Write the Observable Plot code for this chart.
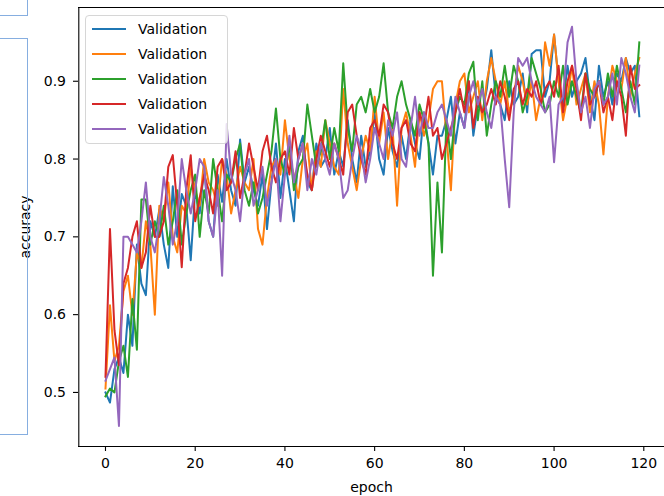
<!DOCTYPE html>
<html>
<head>
<meta charset="utf-8">
<script src="https://cdn.jsdelivr.net/npm/d3@7"></script>
<script src="https://cdn.jsdelivr.net/npm/@observablehq/plot@0.6"></script>
<style>
  html, body { margin: 0; padding: 0; background: #fff; }
  #wrap { position: relative; width: 664px; height: 496px; overflow: hidden; font-family: "DejaVu Sans", sans-serif; }
  .deco { position: absolute; border: 1px solid #86aee0; box-sizing: border-box; }
  #legend { position: absolute; left: 85px; top: 15px; width: 143px; height: 129px; box-sizing: border-box;
    border: 1px solid #d6d6d6; border-radius: 4px; background: rgba(255,255,255,0.8); }
  .row { position: absolute; left: 0; height: 20px; display: flex; align-items: center; }
  .row svg { margin-left: 5px; }
  .row span { margin-left: 11px; font-size: 14px; color: #000; }
</style>
</head>
<body>
<div id="wrap"></div>
<script>
const epochs = d3.range(120);
const seriesNames = ["Validation", "Validation", "Validation", "Validation", "Validation"];
const colors = ["#1f77b4", "#ff7f0e", "#2ca02c", "#d62728", "#9467bd"];
const xTicks = [0, 20, 40, 60, 80, 100, 120];
const yTicks = [0.5, 0.6, 0.7, 0.8, 0.9];

const blue = [
0.500,0.487,0.530,0.545,0.525,0.600,0.560,0.690,0.640,0.625,
0.720,0.700,0.735,0.690,0.660,0.765,0.700,0.755,0.740,0.670,
0.760,0.730,0.790,0.720,0.700,0.780,0.745,0.800,0.760,0.740,
0.825,0.770,0.790,0.760,0.740,0.780,0.710,0.770,0.820,0.750,
0.800,0.760,0.720,0.810,0.830,0.770,0.760,0.820,0.790,0.800,
0.840,0.780,0.810,0.790,0.850,0.800,0.770,0.830,0.790,0.810,
0.860,0.800,0.780,0.840,0.810,0.790,0.830,0.800,0.850,0.820,
0.800,0.860,0.820,0.780,0.830,0.830,0.850,0.880,0.820,0.860,
0.840,0.900,0.830,0.870,0.860,0.890,0.940,0.880,0.870,0.850,
0.900,0.870,0.880,0.910,0.860,0.935,0.940,0.940,0.880,0.900,
0.960,0.900,0.870,0.920,0.880,0.900,0.910,0.930,0.880,0.850,
0.920,0.880,0.900,0.870,0.910,0.900,0.930,0.910,0.920,0.855];
const orange = [
0.505,0.612,0.540,0.560,0.630,0.650,0.600,0.680,0.660,0.720,
0.690,0.600,0.740,0.720,0.770,0.700,0.680,0.740,0.730,0.790,
0.760,0.740,0.800,0.770,0.760,0.740,0.800,0.780,0.730,0.760,
0.790,0.770,0.760,0.800,0.710,0.690,0.750,0.790,0.800,0.780,
0.850,0.800,0.780,0.750,0.800,0.820,0.760,0.810,0.790,0.850,
0.820,0.790,0.780,0.890,0.820,0.790,0.760,0.800,0.830,0.810,
0.880,0.820,0.860,0.800,0.840,0.740,0.840,0.860,0.830,0.790,
0.860,0.830,0.850,0.890,0.900,0.900,0.830,0.760,0.870,0.900,
0.910,0.860,0.880,0.900,0.850,0.900,0.930,0.900,0.870,0.900,
0.860,0.880,0.920,0.900,0.870,0.900,0.850,0.880,0.950,0.920,
0.960,0.900,0.850,0.880,0.920,0.870,0.890,0.910,0.860,0.900,
0.870,0.806,0.880,0.920,0.900,0.890,0.930,0.880,0.910,0.930];
const green = [
0.495,0.505,0.500,0.540,0.560,0.520,0.620,0.555,0.748,0.748,
0.690,0.720,0.700,0.740,0.690,0.720,0.760,0.690,0.730,0.760,
0.780,0.700,0.760,0.730,0.800,0.760,0.720,0.780,0.770,0.800,
0.820,0.760,0.740,0.770,0.730,0.750,0.780,0.810,0.865,0.800,
0.780,0.820,0.760,0.790,0.800,0.870,0.830,0.790,0.810,0.850,
0.800,0.840,0.810,0.923,0.840,0.810,0.870,0.880,0.860,0.890,
0.860,0.880,0.923,0.860,0.840,0.880,0.900,0.870,0.850,0.830,
0.870,0.850,0.820,0.650,0.770,0.680,0.850,0.800,0.860,0.880,
0.870,0.910,0.925,0.850,0.900,0.830,0.870,0.900,0.880,0.920,
0.880,0.920,0.900,0.860,0.880,0.930,0.910,0.890,0.860,0.870,
0.900,0.880,0.920,0.870,0.900,0.880,0.860,0.910,0.890,0.880,
0.900,0.870,0.910,0.880,0.920,0.890,0.860,0.900,0.870,0.950];
const red = [
0.520,0.710,0.580,0.535,0.640,0.660,0.700,0.720,0.660,0.680,
0.740,0.700,0.700,0.720,0.790,0.805,0.740,0.661,0.760,0.805,
0.720,0.750,0.780,0.760,0.730,0.790,0.800,0.760,0.770,0.810,
0.750,0.780,0.820,0.790,0.760,0.810,0.830,0.790,0.770,0.800,
0.810,0.780,0.840,0.800,0.820,0.780,0.760,0.800,0.830,0.810,
0.790,0.820,0.800,0.780,0.860,0.870,0.830,0.800,0.780,0.840,
0.850,0.830,0.870,0.860,0.820,0.800,0.840,0.850,0.820,0.810,
0.860,0.840,0.880,0.830,0.840,0.800,0.820,0.840,0.860,0.890,
0.860,0.900,0.840,0.880,0.860,0.870,0.890,0.870,0.900,0.880,
0.850,0.890,0.900,0.870,0.890,0.880,0.900,0.870,0.890,0.900,
0.880,0.920,0.860,0.900,0.920,0.890,0.850,0.910,0.870,0.880,
0.900,0.860,0.880,0.850,0.900,0.880,0.830,0.920,0.890,0.895];
const purple = [
0.515,0.530,0.545,0.457,0.700,0.700,0.690,0.680,0.720,0.770,
0.700,0.680,0.720,0.777,0.740,0.690,0.720,0.800,0.760,0.730,
0.760,0.800,0.790,0.720,0.700,0.760,0.650,0.845,0.780,0.760,
0.720,0.780,0.800,0.740,0.760,0.790,0.740,0.770,0.800,0.720,
0.780,0.830,0.770,0.800,0.820,0.760,0.800,0.780,0.820,0.800,
0.780,0.820,0.800,0.750,0.760,0.800,0.830,0.810,0.770,0.800,
0.840,0.820,0.800,0.850,0.830,0.860,0.800,0.790,0.840,0.880,
0.830,0.860,0.840,0.840,0.860,0.870,0.850,0.830,0.880,0.860,
0.840,0.880,0.900,0.870,0.890,0.860,0.840,0.880,0.870,0.800,
0.738,0.860,0.930,0.920,0.930,0.900,0.880,0.870,0.860,0.880,
0.796,0.870,0.880,0.950,0.970,0.900,0.860,0.880,0.840,0.890,
0.900,0.870,0.880,0.910,0.870,0.930,0.910,0.880,0.860,0.920];

const allSeries = [blue, orange, green, red, purple];
const rows = allSeries.flatMap((vals, s) => vals.map((v, i) => ({epoch: epochs[i], acc: v, s})));

const xDomain = [-5.95, 124.95];
const yDomain = [0.4305, 0.9948];

const chart = Plot.plot({
  width: 664,
  height: 496,
  marginLeft: 78,
  marginRight: 0,
  marginTop: 7,
  marginBottom: 50,
  style: {fontFamily: "DejaVu Sans, sans-serif", fontSize: "14px", color: "#000", background: "transparent"},
  x: {domain: xDomain, range: [78.3, 665.5]},
  y: {domain: yDomain, range: [446, 7]},
  marks: [
    ...allSeries.map((vals, s) => Plot.line(rows.filter(d => d.s === s), {
      x: "epoch", y: "acc", stroke: colors[s], strokeWidth: 2, strokeLinejoin: "round", strokeLinecap: "square"
    })),
    Plot.ruleY([yDomain[0]], {stroke: "#000", strokeWidth: 1.1}),
    Plot.ruleY([yDomain[1]], {stroke: "#000", strokeWidth: 1.1}),
    Plot.ruleX([xDomain[0]], {stroke: "#000", strokeWidth: 1.1}),
    Plot.axisX(xTicks, {tickSize: 5, tickPadding: 7, label: null, stroke: "#000", strokeWidth: 1.1, fill: "#000"}),
    Plot.axisY(yTicks, {tickSize: 5, tickPadding: 7.5, label: null, tickFormat: d3.format(".1f"), stroke: "#000", strokeWidth: 1.1, fill: "#000"}),
    Plot.text(["epoch"], {frameAnchor: "bottom", dy: 45, fill: "#000", fontSize: 14}),
    Plot.text(["accuracy"], {frameAnchor: "left", textAnchor: "middle", dx: -53, rotate: -90, fill: "#000", fontSize: 14})
  ]
});

const wrap = document.getElementById("wrap");
chart.style.position = "absolute";
chart.style.left = "0px";
chart.style.top = "0px";
wrap.appendChild(chart);

// decorative screenshot boxes on the left edge
const d1 = document.createElement("div");
d1.className = "deco";
Object.assign(d1.style, {left: "-2px", top: "-2px", width: "30px", height: "18px"});
wrap.appendChild(d1);
const d2 = document.createElement("div");
d2.className = "deco";
Object.assign(d2.style, {left: "-2px", top: "38px", width: "30px", height: "397px"});
wrap.appendChild(d2);

// legend
const legend = document.createElement("div");
legend.id = "legend";
seriesNames.forEach((name, i) => {
  const r = document.createElement("div");
  r.className = "row";
  r.style.top = (3 + i * 25) + "px";
  r.innerHTML = `<svg width="36" height="4"><line x1="1" x2="35" y1="2" y2="2" stroke="${colors[i]}" stroke-width="2"/></svg><span>${name}</span>`;
  legend.appendChild(r);
});
wrap.appendChild(legend);
</script>
</body>
</html>
